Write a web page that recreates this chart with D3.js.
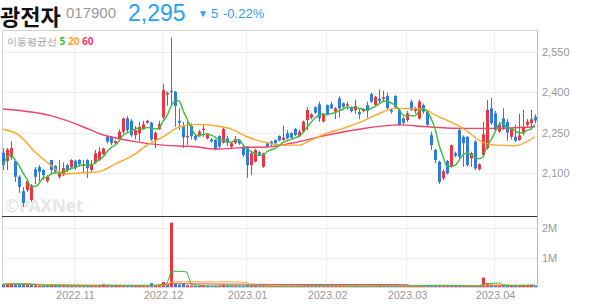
<!DOCTYPE html>
<html>
<head>
<meta charset="utf-8">
<script src="https://cdn.jsdelivr.net/npm/d3@7"></script>
<style>
  body { margin: 0; background: #fff; }
  svg { font-family: "Noto Sans", sans-serif; }
</style>
</head>
<body>
<svg id="chart" width="594" height="304"></svg>
<script>
// data ----------------------------------------
var opens = [2176,2146,2160,2145,2087,2034,2038,2001,2115,2123,2112,2071,2149,2127,2087,2093,2130,2122,2146,2149,
  2127,2149,2112,2139,2149,2171,2235,2235,2212,2229,2254,2303,2294,2241,2248,2266,2287,2287,2223,2263,
  2307,2392,2405,2402,2294,2275,2233,2275,2238,2241,2260,2229,2225,2223,2238,2213,2229,2198,2213,2222,
  2198,2198,2130,2143,2178,2124,2211,2217,2223,2238,2223,2248,2248,2264,2237,2254,2297,2306,2344,2355,
  2291,2352,2355,2328,2377,2359,2350,2343,2333,2326,2330,2352,2393,2353,2375,2375,2386,2334,2386,2334,
  2303,2297,2365,2330,2303,2352,2328,2241,2186,2143,2081,2145,2124,2174,2260,2235,2235,2155,2217,2115,
  2167,2192,2340,2322,2254,2303,2290,2235,2235,2223,2248,2279,2285,2309];
var highs = [2193,2193,2219,2150,2093,2049,2075,2060,2123,2130,2115,2093,2150,2130,2149,2140,2135,2152,2150,2152,
  2149,2152,2149,2186,2197,2195,2238,2238,2222,2262,2305,2312,2300,2275,2290,2294,2298,2290,2255,2294,
  2430,2402,2603,2405,2340,2290,2290,2285,2245,2260,2280,2248,2230,2226,2240,2268,2238,2215,2238,2226,
  2200,2200,2180,2190,2182,2176,2217,2220,2225,2240,2276,2260,2252,2268,2262,2295,2345,2322,2348,2365,
  2322,2355,2365,2345,2385,2362,2365,2348,2372,2340,2340,2365,2398,2387,2410,2405,2398,2340,2390,2340,
  2310,2330,2372,2345,2372,2358,2335,2254,2190,2146,2115,2149,2206,2180,2265,2240,2238,2180,2222,2137,
  2290,2371,2380,2330,2290,2340,2300,2262,2280,2320,2334,2300,2334,2318];
var lows = [2112,2112,2150,2068,2027,1976,2030,1995,2060,2068,2075,2065,2093,2100,2080,2090,2105,2118,2112,2125,
  2100,2082,2105,2135,2145,2168,2210,2205,2208,2225,2248,2250,2235,2225,2218,2262,2283,2220,2193,2260,
  2300,2350,2353,2272,2260,2193,2205,2225,2220,2235,2235,2225,2214,2185,2190,2210,2200,2190,2208,2205,
  2160,2083,2093,2140,2165,2120,2198,2200,2205,2218,2220,2225,2228,2238,2233,2250,2260,2300,2320,2290,
  2288,2315,2338,2300,2305,2340,2335,2325,2320,2300,2325,2305,2360,2348,2360,2365,2335,2320,2340,2275,
  2280,2290,2330,2320,2298,2320,2275,2186,2137,2060,2075,2095,2120,2160,2155,2124,2125,2124,2112,2110,
  2163,2188,2280,2255,2250,2260,2220,2225,2215,2220,2240,2270,2260,2285];
var closes = [2130,2188,2193,2087,2050,1990,2071,2056,2087,2106,2093,2087,2112,2106,2102,2119,2112,2149,2122,2134,
  2133,2119,2134,2174,2180,2192,2217,2211,2219,2254,2303,2260,2241,2260,2272,2281,2294,2225,2250,2282,
  2408,2398,2400,2349,2287,2233,2238,2238,2225,2254,2265,2244,2218,2189,2199,2264,2213,2211,2226,2210,
  2167,2130,2174,2186,2170,2174,2198,2207,2211,2222,2232,2229,2232,2241,2254,2291,2334,2318,2324,2303,
  2319,2318,2340,2340,2340,2346,2355,2330,2349,2318,2337,2331,2365,2383,2367,2381,2341,2328,2344,2279,
  2287,2322,2334,2340,2365,2328,2279,2204,2149,2068,2108,2100,2204,2165,2161,2211,2130,2174,2118,2133,
  2244,2334,2285,2260,2279,2269,2250,2268,2220,2240,2272,2291,2300,2295];
var volumes = [90000,110000,100000,120000,90000,110000,80000,70000,60000,50000,50000,40000,60000,40000,45000,40000,35000,40000,35000,30000,
  35000,40000,35000,50000,60000,90000,50000,40000,35000,40000,70000,50000,40000,35000,45000,40000,35000,130000,60000,80000,
  170000,120000,2190000,110000,80000,110000,60000,50000,40000,40000,35000,35000,30000,40000,40000,80000,40000,30000,30000,30000,
  40000,60000,50000,40000,30000,35000,30000,30000,35000,30000,40000,35000,30000,35000,35000,45000,60000,40000,40000,50000,
  40000,40000,35000,40000,50000,35000,30000,30000,40000,35000,30000,35000,45000,40000,40000,35000,40000,30000,35000,45000,
  35000,50000,40000,35000,70000,40000,45000,70000,70000,60000,40000,45000,50000,40000,40000,35000,40000,35000,40000,35000,
  320000,140000,90000,60000,50000,45000,50000,40000,45000,50000,60000,50000,80000,50000];

// moving averages (candle index, price)
var ma20Pts = [[0,2263],[4,2241],[8,2179],[12,2129],[15,2097],[20,2102],[24,2106],[28,2134],[33,2171],[36,2204],
  [40,2235],[44,2271],[48,2281],[53,2276],[57,2264],[61,2235],[65,2216],[70,2204],[74,2204],[77,2223],
  [81,2248],[85,2266],[89,2287],[93,2314],[98,2340],[105,2338],[108,2316],[115,2266],[120,2214],[123,2204],
  [128,2202],[133,2235]];
var ma60Pts = [[0,2338],[12,2313],[20,2272],[24,2247],[33,2217],[40,2204],[48,2198],[53,2190],[57,2192],[61,2196],
  [66,2197],[72,2211],[81,2241],[89,2263],[99,2279],[106,2272],[115,2266],[123,2266],[133,2272]];

var priceTicks = [2100, 2250, 2400, 2550];
var volTicks = [1000000, 2000000];
var volTickLabels = ["1M", "2M"];
var monthIdx = [18, 40, 61, 81, 101, 123];
var monthLabels = ["2022.11", "2022.12", "2023.01", "2023.02", "2023.03", "2023.04"];

// colors ----------------------------------------
var upColor = "#f0333f";
var downColor = "#2b7de3";
var ma5Color = "#3dbb3d";
var ma20Color = "#ffa62b";
var ma60Color = "#f0426a";
var quoteColor = "#2aa0f5";

var svg = d3.select("#chart");

// layout
var plotLeft = 2, plotRight = 537;
var priceTop = 30, priceBottom = 213;
var volTop = 217, volBottom = 287;

var x = d3.scaleLinear().domain([0, closes.length - 1]).range([3, 535]);
var y = d3.scaleLinear().domain([1953, 2630]).range([priceBottom, priceTop]);
var yVol = d3.scaleLinear().domain([0, 1000000]).range([volBottom, volBottom - 29.4]);

function movingAvg(arr, n) {
  return arr.map(function(d, i) {
    var s = arr.slice(Math.max(0, i - n + 1), i + 1);
    return [i, d3.mean(s)];
  });
}

// header ----------------------------------------
svg.append("text").attr("x", 0).attr("y", 25)
  .style("font-family", "'Noto Sans CJK KR'").style("font-weight", "bold")
  .style("font-size", "22px").attr("fill", "#111").text("광전자");
svg.append("text").attr("x", 66).attr("y", 18)
  .style("font-family", "'Liberation Sans'")
  .style("font-size", "15px").attr("fill", "#999").text("017900");
svg.append("text").attr("x", 128).attr("y", 21)
  .style("font-family", "'Liberation Sans'")
  .style("font-size", "23px").attr("fill", quoteColor).text("2,295");
svg.append("text").attr("x", 198).attr("y", 17)
  .style("font-family", "'Liberation Sans'")
  .style("font-size", "10px").attr("fill", quoteColor).text("▼");
svg.append("text").attr("x", 211).attr("y", 18)
  .style("font-family", "'Liberation Sans'")
  .style("font-size", "13px").attr("fill", quoteColor).text("5");
svg.append("text").attr("x", 223).attr("y", 18)
  .style("font-family", "'Liberation Sans'")
  .style("font-size", "13px").attr("fill", quoteColor).text("-0.22%");

// grid ----------------------------------------
var grid = svg.append("g").attr("class", "grid");
grid.selectAll("line.h").data(priceTicks).enter().append("line")
  .attr("x1", plotLeft).attr("x2", plotRight)
  .attr("y1", function(d) { return Math.round(y(d)) + 0.5; })
  .attr("y2", function(d) { return Math.round(y(d)) + 0.5; })
  .attr("stroke", "#eeeeee");
grid.selectAll("line.hv").data(volTicks).enter().append("line")
  .attr("x1", plotLeft).attr("x2", plotRight)
  .attr("y1", function(d) { return Math.round(yVol(d)) + 0.5; })
  .attr("y2", function(d) { return Math.round(yVol(d)) + 0.5; })
  .attr("stroke", "#eeeeee");
grid.selectAll("line.v").data(monthIdx).enter().append("line")
  .attr("x1", function(d) { return Math.round(x(d)) - 0.5; })
  .attr("x2", function(d) { return Math.round(x(d)) - 0.5; })
  .attr("y1", priceTop).attr("y2", volBottom)
  .attr("stroke", "#eeeeee");

// frame
svg.append("line").attr("x1", plotLeft).attr("x2", plotRight).attr("y1", priceTop + 0.5).attr("y2", priceTop + 0.5).attr("stroke", "#d5d5d5");
svg.append("line").attr("x1", plotLeft + 0.5).attr("x2", plotLeft + 0.5).attr("y1", priceTop).attr("y2", volBottom).attr("stroke", "#d5d5d5");
svg.append("line").attr("x1", plotRight + 0.5).attr("x2", plotRight + 0.5).attr("y1", priceTop).attr("y2", volBottom).attr("stroke", "#bbbbbb");
svg.append("line").attr("x1", plotLeft).attr("x2", plotRight).attr("y1", volBottom + 0.5).attr("y2", volBottom + 0.5).attr("stroke", "#d5d5d5");

// legend
var legend = svg.append("text").attr("x", 7).attr("y", 45).style("font-size", "10px");
legend.append("tspan").attr("fill", "#999").text("이동평균선 ");
legend.append("tspan").attr("fill", ma5Color).style("font-weight", "bold").text("5 ");
legend.append("tspan").attr("fill", ma20Color).style("font-weight", "bold").text("20 ");
legend.append("tspan").attr("fill", ma60Color).style("font-weight", "bold").text("60");

// watermark
svg.append("text").attr("x", 5).attr("y", 212)
  .style("font-size", "17px").style("font-weight", "bold")
  .attr("fill", "#e6e6e6").text("©PAXNet");

// candles ----------------------------------------
var candles = svg.append("g").attr("class", "candles");
var cData = closes.map(function(c, i) {
  return { i: i, o: opens[i], h: highs[i], l: lows[i], c: c, v: volumes[i] };
});

candles.selectAll("line").data(cData).enter().append("line")
  .attr("x1", function(d) { return Math.round(x(d.i)) + 0.5; })
  .attr("x2", function(d) { return Math.round(x(d.i)) + 0.5; })
  .attr("y1", function(d) { return y(d.h); })
  .attr("y2", function(d) { return y(d.l); })
  .attr("stroke", function(d) { return d.c >= d.o ? upColor : downColor; });

candles.selectAll("rect").data(cData).enter().append("rect")
  .attr("x", function(d) { return Math.round(x(d.i)) - 1; })
  .attr("width", 3)
  .attr("y", function(d) { return y(Math.max(d.o, d.c)); })
  .attr("height", function(d) { return Math.max(1, Math.abs(y(d.o) - y(d.c))); })
  .attr("fill", function(d) { return d.c >= d.o ? upColor : downColor; });

// moving average lines
var priceLine = d3.line()
  .x(function(d) { return x(d[0]); })
  .y(function(d) { return y(d[1]); });

svg.append("path").datum(ma60Pts)
  .attr("d", priceLine.curve(d3.curveMonotoneX))
  .attr("fill", "none").attr("stroke", ma60Color).attr("stroke-width", 1.4);
svg.append("path").datum(ma20Pts)
  .attr("d", priceLine.curve(d3.curveMonotoneX))
  .attr("fill", "none").attr("stroke", ma20Color).attr("stroke-width", 1.4);
svg.append("path").datum(movingAvg(closes, 5))
  .attr("d", priceLine.curve(d3.curveMonotoneX))
  .attr("fill", "none").attr("stroke", ma5Color).attr("stroke-width", 1.4);

// price axis
var yAxis = svg.append("g")
  .attr("transform", "translate(" + plotRight + ",0)")
  .call(d3.axisRight(y).tickValues(priceTicks).tickSize(0).tickPadding(5).tickFormat(d3.format(",")));
yAxis.select(".domain").remove();
yAxis.selectAll("text").attr("fill", "#999").style("font-size", "11px");

// separator
svg.append("line").attr("x1", plotLeft).attr("x2", plotRight).attr("y1", 216.5).attr("y2", 216.5).attr("stroke", "#333").attr("stroke-width", 1);

// volume ----------------------------------------
svg.append("g").selectAll("rect").data(cData).enter().append("rect")
  .attr("x", function(d) { return Math.round(x(d.i)) - 1; })
  .attr("width", 3)
  .attr("y", function(d) { return yVol(d.v); })
  .attr("height", function(d) { return volBottom - yVol(d.v); })
  .attr("fill", function(d) {
    var prev = d.i > 0 ? closes[d.i - 1] : d.o;
    return d.c >= prev ? upColor : downColor;
  });

var volLine = d3.line()
  .x(function(d) { return x(d[0]); })
  .y(function(d) { return yVol(d[1]); });
svg.append("path").datum(movingAvg(volumes, 60)).attr("d", volLine)
  .attr("fill", "none").attr("stroke", ma60Color).attr("stroke-width", 1);
svg.append("path").datum(movingAvg(volumes, 20)).attr("d", volLine)
  .attr("fill", "none").attr("stroke", ma20Color).attr("stroke-width", 1);
svg.append("path").datum(movingAvg(volumes, 5)).attr("d", volLine)
  .attr("fill", "none").attr("stroke", ma5Color).attr("stroke-width", 1);

var vAxis = svg.append("g")
  .attr("transform", "translate(" + plotRight + ",0)")
  .call(d3.axisRight(yVol).tickValues(volTicks).tickSize(0).tickPadding(5)
    .tickFormat(function(d, i) { return volTickLabels[i]; }));
vAxis.select(".domain").remove();
vAxis.selectAll("text").attr("fill", "#999").style("font-size", "11px");

// x axis labels
var xAxis = svg.append("g")
  .attr("transform", "translate(0," + volBottom + ")")
  .call(d3.axisBottom(x).tickValues(monthIdx).tickSize(0).tickPadding(4)
    .tickFormat(function(d, i) { return monthLabels[i]; }));
xAxis.select(".domain").remove();
xAxis.selectAll("text").attr("fill", "#999").style("font-size", "11px");
</script>
</body>
</html>
